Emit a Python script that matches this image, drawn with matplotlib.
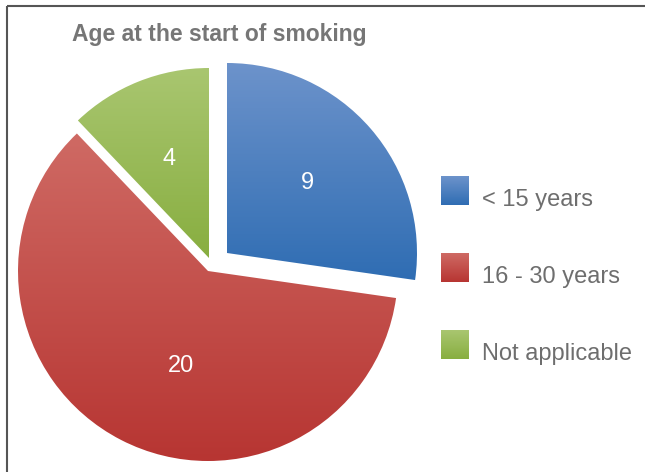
import numpy as np
import matplotlib
matplotlib.use("Agg")
import matplotlib.pyplot as plt
from matplotlib.colors import LinearSegmentedColormap
from matplotlib.patches import Rectangle

plt.rcParams['font.family'] = ['Liberation Sans', 'DejaVu Sans']

categories = ['< 15 years', '16 - 30 years', 'Not applicable']
counts = [9, 20, 4]
# how far each slice is pulled out from the centre, in pixels (dx, dy)
pull = [(19, 18), (0, 0), (1, 13)]
# (top colour, bottom colour) of the vertical gradient fill
shades = [('#6d93cb', '#2f6db3'),
          ('#cf6a64', '#b73532'),
          ('#a9c670', '#88ae40')]

W, H = 645, 472
R = 190
CX, CY = 208, H - 271
fig = plt.figure(figsize=(W / 100, H / 100), dpi=100)
ax = fig.add_axes([0, 0, 1, 1])

ramp = np.linspace(0, 1, 256).reshape(-1, 1)


def gradient_fill(patch, x0, x1, y0, y1, top, bottom):
    cmap = LinearSegmentedColormap.from_list('g', [bottom, top])
    im = ax.imshow(ramp, cmap=cmap, extent=[x0, x1, y0, y1], origin='lower',
                   aspect='auto', interpolation='bilinear', zorder=2)
    im.set_clip_path(patch)


total = sum(counts)
wedges, _, autotexts = ax.pie(
    counts, radius=R, center=(CX, CY), startangle=90, counterclock=False,
    frame=True, autopct=lambda p: f'{round(p * total / 100)}', pctdistance=0.56,
    textprops=dict(color='white', fontsize=17),
    wedgeprops=dict(linewidth=0))
ax.set_xlim(0, W)
ax.set_ylim(0, H)
ax.set_aspect('equal')
ax.axis('off')

for w, txt, (dx, dy), (top, bottom) in zip(wedges, autotexts, pull, shades):
    w.set_center((CX + dx, CY + dy))
    tx, ty = txt.get_position()
    txt.set_position((tx + dx, ty + dy))
    txt.set_zorder(5)
    w.set_facecolor('none')
    cx, cy = w.center
    t = np.radians(np.linspace(w.theta1, w.theta2, 200))
    xs = np.r_[cx, cx + w.r * np.cos(t)]
    ys = np.r_[cy, cy + w.r * np.sin(t)]
    gradient_fill(w, xs.min(), xs.max(), ys.min(), ys.max(), top, bottom)

# the big slice's number sits a little right of its bisector
tx, ty = autotexts[1].get_position()
autotexts[1].set_position((tx + 22, ty))

# legend swatches with the same gradient fills
for i, (name, (top, bottom)) in enumerate(zip(categories, shades)):
    y0 = H - (205 + i * 77)
    sq = Rectangle((441, y0), 28, 29, facecolor='none', edgecolor='none')
    ax.add_patch(sq)
    gradient_fill(sq, 441, 469, y0, y0 + 29, top, bottom)
    ax.text(482, y0 - 1, name, fontsize=17, color='#6e6e6e', va='baseline', ha='left')

ax.text(219, H - 34, 'Age at the start of smoking', fontsize=16.5, fontweight='bold',
        color='#767676', ha='center', va='center')

# outer frame (top and left edges)
ax.plot([6.5, W], [H - 6, H - 6], color='#555555', lw=1.5, solid_capstyle='butt')
ax.plot([6.5, 6.5], [H - 6, 0], color='#555555', lw=1.5, solid_capstyle='butt')

fig.savefig('out.png', dpi=100)
